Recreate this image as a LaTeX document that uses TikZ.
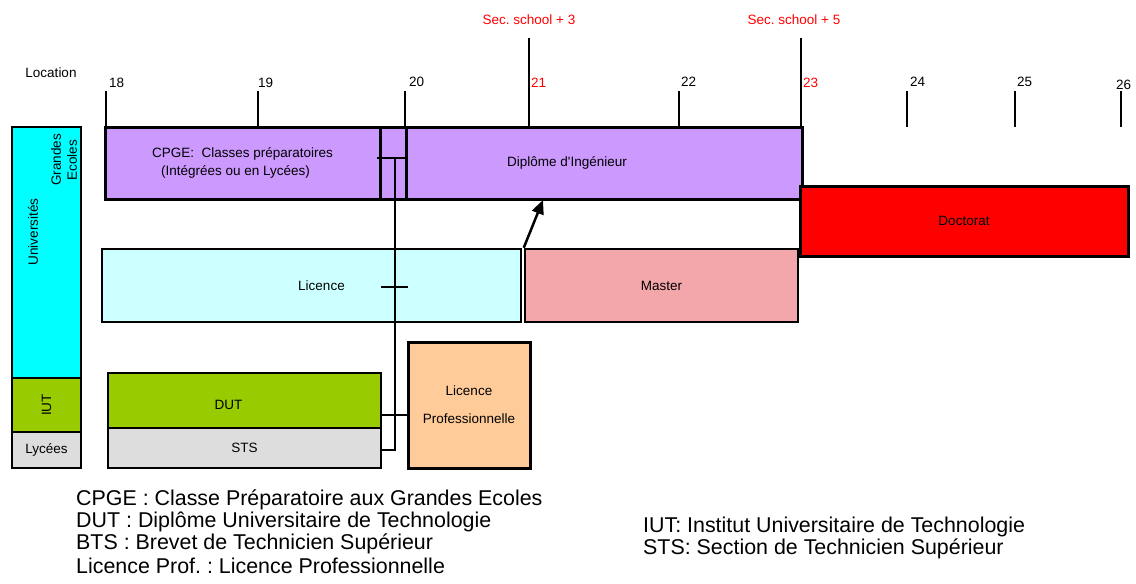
\documentclass[tikz,border=0pt]{standalone}
\usepackage{fontspec}
\setmainfont{Liberation Sans}
\usetikzlibrary{arrows.meta}
\frenchspacing
\definecolor{cpurple}{HTML}{CC99FF}
\definecolor{ccyan}{HTML}{00FFFF}
\definecolor{clcyan}{HTML}{CCFFFF}
\definecolor{cpink}{HTML}{F4A7AB}
\definecolor{cred}{HTML}{FF0000}
\definecolor{corange}{HTML}{FFCC99}
\definecolor{cgreen}{HTML}{99CC00}
\definecolor{cgray}{HTML}{DDDDDD}
\begin{document}
\begin{tikzpicture}[x=1pt,y=-1pt,
  small/.style={font=\fontsize{13.5}{16}\selectfont},
  box/.style={draw=black, line width=3pt, inner sep=0pt, small, align=center},
  thinbox/.style={box, line width=2pt},
  tickline/.style={line width=2pt},
  ticklab/.style={small, anchor=west, inner sep=0pt},
  redlab/.style={ticklab, text=cred},
  conn/.style={line width=1.5pt},
  legend/.style={font=\fontsize{21.4}{22}\selectfont, anchor=west, inner sep=0pt}]
\useasboundingbox (0,0) rectangle (1136,584);

% axis
\node[small] (loc) at (51,73) {Location};
\draw[tickline] (106,91) -- (106,127);
\draw[tickline] (258,91) -- (258,127);
\draw[tickline] (405,91) -- (405,127);
\draw[tickline] (529,38) -- (529,127);
\draw[tickline] (679,91) -- (679,127);
\draw[tickline] (801,38) -- (801,127);
\draw[tickline] (907,91) -- (907,127);
\draw[tickline] (1015,91) -- (1015,127);
\draw[tickline] (1121,91) -- (1121,127);
\node[ticklab] (t18) at (109,83) {18};
\node[ticklab] (t19) at (258,83) {19};
\node[ticklab] (t20) at (409,82) {20};
\node[redlab] (t21) at (531,83) {21};
\node[ticklab] (t22) at (681,82) {22};
\node[redlab] (t23) at (803,83) {23};
\node[ticklab] (t24) at (910,82) {24};
\node[ticklab] (t25) at (1017,82) {25};
\node[ticklab] (t26) at (1116,85) {26};
\node[small, text=cred] (s3) at (529,20) {Sec. school + 3};
\node[small, text=cred] (s5) at (794,20) {Sec. school + 5};

% left column
\node[thinbox, line width=2.5pt, fill=ccyan, minimum width=69, minimum height=251] (univ) at (46.5,252.5) {};
\node[small, rotate=90, align=center, inner sep=0pt] (ge) at (64,160) {Grandes\\Ecoles};
\node[small, rotate=90, inner sep=0pt] (univlab) at (33,232) {Universités};
\node[thinbox, fill=cgreen, minimum width=69, minimum height=54,
  label={[small, rotate=90]center:IUT}] (iut) at (46.5,405) {};
\node[thinbox, fill=cgray, minimum width=69, minimum height=36] (lyc) at (46.5,450) {Lycées};

% main boxes
\node[box, fill=cpurple, minimum width=275, minimum height=72] (cpge) at (242.5,163)
  {CPGE:\ \ Classes préparatoires\\[2pt]\hspace*{-14pt}(Intégrées ou en Lycées)};
\node[box, fill=cpurple, minimum width=26, minimum height=72] (mid) at (393,163) {};
\node[box, fill=cpurple, minimum width=396, minimum height=72,
  label={[small, xshift=-37pt]center:Diplôme d\textquotesingle Ingénieur}] (ding) at (604,163) {};
\node[box, fill=cred, minimum width=328, minimum height=70] (doct) at (964,221) {Doctorat};
\node[thinbox, fill=clcyan, minimum width=419, minimum height=73,
  label={[small, xshift=10pt]center:Licence}] (lic) at (311.5,285.5) {};
\node[box, line width=2.5pt, fill=cpink, minimum width=273, minimum height=73] (mast) at (661.5,285.5) {Master};
\node[box, fill=corange, minimum width=122, minimum height=126] (lpro) at (469,405)
  {Licence\\[12pt]Professionnelle};
\node[thinbox, fill=cgreen, minimum width=273, minimum height=55,
  label={[small, xshift=-16pt, yshift=-4pt]center:DUT}] (dut) at (244.5,400.5) {};
\node[thinbox, fill=cgray, minimum width=273, minimum height=40] (sts) at (244.5,448) {STS};

% connectors
\coordinate (ja) at (377,158);
\coordinate (jb) at (406,158);
\coordinate (jc) at (395,158);
\coordinate (jd) at (395,450);
\coordinate (la) at (381,287);
\coordinate (lb) at (408,287);
\draw[conn] (ja) -- (jb);
\draw[conn] (jc) -- (jd) -- (sts.east |- jd);
\draw[conn] (la) -- (lb);
\draw[conn] (dut.east |- 0,415) -- (lpro.west |- 0,415);
\draw[line width=2.5pt, -{Triangle[length=14pt,width=12pt]}] (mast.north west) -- (543,200);

% legend
\node[legend] (l1) at (76,500) {CPGE : Classe Préparatoire aux Grandes Ecoles};
\node[legend] (l2) at (76,522) {DUT : Diplôme Universitaire de Technologie};
\node[legend] (l3) at (76,544) {BTS : Brevet de Technicien Supérieur};
\node[legend] (l4) at (76,566) {Licence Prof. : Licence Professionnelle};
\node[legend] (r1) at (643,527) {IUT: Institut Universitaire de Technologie};
\node[legend] (r2) at (643,549) {STS: Section de Technicien Supérieur};
\end{tikzpicture}
\end{document}
